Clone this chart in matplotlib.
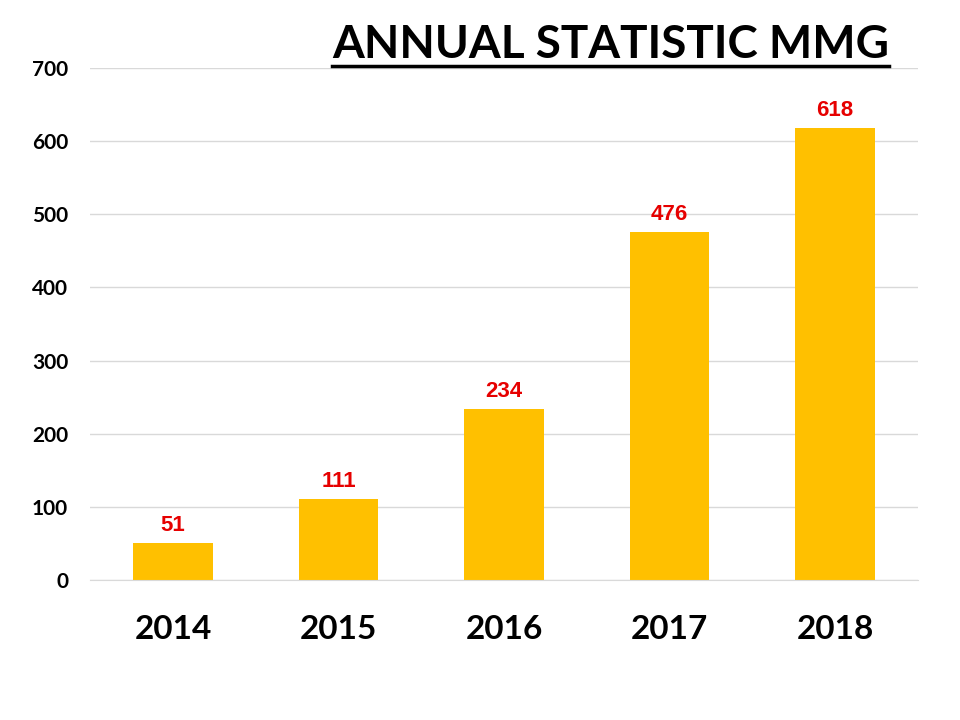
import matplotlib.pyplot as plt
from matplotlib.lines import Line2D

years = ['2014', '2015', '2016', '2017', '2018']
values = [51, 111, 234, 476, 618]
yticks = [0, 100, 200, 300, 400, 500, 600, 700]

fig = plt.figure(figsize=(9.6, 7.2), dpi=100)
ax = fig.add_axes([0.094, 0.1944, 0.862, 0.7112])

bars = ax.bar(years, values, width=0.48, color='#FFC000', zorder=3)
ax.set_xlim(-0.5, len(years) - 0.5)
ax.set_ylim(0, 700)
ax.set_yticks(yticks)
ax.grid(axis='y', color='#d9d9d9', linewidth=1, zorder=0)

for s in ['top', 'right', 'left']:
    ax.spines[s].set_visible(False)
ax.spines['bottom'].set_color('#d9d9d9')
ax.spines['bottom'].set_zorder(4)
ax.tick_params(length=0)
ax.tick_params(axis='y', pad=16)
ax.tick_params(axis='x', pad=25)

for lab in ax.get_yticklabels():
    lab.set_fontfamily('Lato')
    lab.set_fontweight('bold')
    lab.set_fontsize(15)
for lab in ax.get_xticklabels():
    lab.set_fontfamily('Lato')
    lab.set_fontweight('bold')
    lab.set_fontsize(24)

for b, v in zip(bars, values):
    ax.annotate(str(v), (b.get_x() + b.get_width() / 2, v), xytext=(0, 5),
                textcoords='offset points', ha='center', va='bottom',
                color='#e60000', fontsize=16, fontweight='bold',
                family='Liberation Sans')

title = fig.text(0.636, 0.937, 'ANNUAL STATISTIC MMG', ha='center', va='center',
                 fontsize=33, fontweight='bold', family='Lato', color='black')

# underline the title
fig.canvas.draw()
bb = title.get_window_extent().transformed(fig.transFigure.inverted())
y_line = 1 - 66 / 720
fig.add_artist(Line2D([bb.x0, bb.x1], [y_line, y_line], color='black',
                      linewidth=2.5, transform=fig.transFigure))

fig.savefig('out.png', dpi=100)
